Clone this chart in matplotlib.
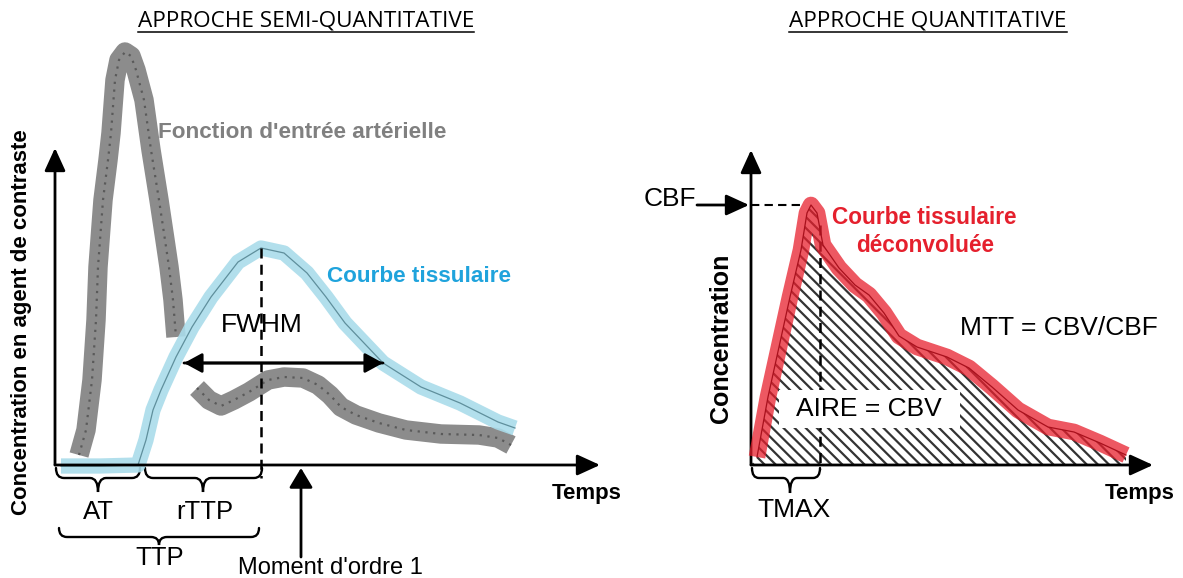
import numpy as np
import matplotlib
matplotlib.use('Agg')
import matplotlib.pyplot as plt
from matplotlib.path import Path
from matplotlib.patches import PathPatch, Rectangle
from matplotlib.lines import Line2D

plt.rcParams['hatch.linewidth'] = 1.6

# --- left panel data (time / concentration, arbitrary units) ---
aif_t1 = [2.4, 3.1, 3.7, 4.1, 4.3, 4.8, 5.3, 5.6, 6.0, 6.4, 7.0, 7.6, 8.1, 8.9, 9.6, 10.4, 11.0, 11.4, 11.8, 12.1]
aif_c1 = [1.0, 3.5, 8.5, 14.5, 19.8, 26.5, 30.5, 33.2, 38.5, 40.5, 41.3, 40.9, 39.5, 36.5, 31.5, 26.5, 22.5, 19.8, 16.5, 12.8]
aif_t2 = [14.2, 15.4, 16.6, 17.9, 19.4, 21.3, 22.9, 24.8, 26.3, 27.5, 28.6, 30.1, 32.4, 35.1, 38.6, 42.4, 44.3, 45.6]
aif_c2 = [7.7, 6.5, 5.9, 6.5, 7.3, 8.5, 8.8, 8.7, 8.0, 7.0, 5.8, 5.0, 4.2, 3.5, 3.1, 3.0, 2.7, 2.0]

tis_t = [0.6, 4.5, 8.3, 9.1, 9.8, 10.6, 12.1, 13.7, 15.6, 18.3, 20.6, 22.9, 25.2, 27.1, 29.0, 30.9, 32.8, 36.6, 40.5, 44.3, 46.0]
tis_c = [-0.1, -0.1, 0.0, 2.5, 5.5, 7.5, 10.8, 13.8, 16.8, 20.3, 21.7, 21.2, 19.2, 16.8, 14.2, 12.2, 10.2, 7.8, 6.2, 4.3, 3.7]

t_arrival = 8.5
t_peak = 20.6
t_moment = 24.6
fwhm_t = [12.9, 32.8]
fwhm_c = 10.2

# --- right panel data ---
dec_t = [0.6, 1.7, 2.8, 3.9, 5.0, 5.6, 6.0, 6.6, 7.2, 8.8, 10.4, 11.8, 13.3, 14.8, 16.6, 19.6, 21.8, 24.1, 26.7, 29.7, 32.3, 34.9, 37.5]
dec_c = [0.8, 6.8, 11.8, 16.8, 21.5, 25.2, 26.0, 25.2, 22.0, 19.7, 18.0, 17.0, 15.2, 12.9, 11.8, 10.8, 9.7, 7.8, 5.5, 3.8, 3.3, 2.2, 1.0]
t_max = 6.9

GRAY = '#8c8c8c'
BLUE = '#aadcea'
RED = '#e8202e'
ARIAL = 'Liberation Sans'

fig = plt.figure(figsize=(11.83, 5.78), dpi=100)
axL = fig.add_axes([0, 0, 1, 1])
axL.set_xlim(-5.5, 112.8)
axL.set_ylim(-11.3, 46.5)
axL.axis('off')
axR = fig.add_axes([0, 0, 1, 1])
axR.set_xlim(-75.1, 43.2)
axR.set_ylim(-11.3, 46.5)
axR.axis('off')
axR.patch.set_alpha(0)


def arrow(ax, xy, xytext, hl=0.7, hw=0.32, lw=2):
    ax.annotate('', xy=xy, xytext=xytext,
                arrowprops=dict(arrowstyle='-|>,head_length=%s,head_width=%s' % (hl, hw),
                                color='black', lw=lw, shrinkA=0, shrinkB=0,
                                mutation_scale=20))


def brace(ax, xa, xb, xm, y0, y1, y2, r=0.8):
    verts = [(xa, y0), (xa, y1), (xa + r, y1), (xm - r, y1), (xm, y1), (xm, y2),
             (xm, y1), (xm + r, y1), (xb - r, y1), (xb, y1), (xb, y0)]
    codes = [Path.MOVETO, Path.CURVE3, Path.CURVE3, Path.LINETO, Path.CURVE3, Path.CURVE3,
             Path.CURVE3, Path.CURVE3, Path.LINETO, Path.CURVE3, Path.CURVE3]
    ax.add_patch(PathPatch(Path(verts, codes), fill=False, lw=1.7, ec='black', capstyle='round'))


# ===== left panel =====
arrow(axL, (0, 31.7), (0, 0))
arrow(axL, (54.5, 0), (0, 0))

for tt, cc in [(aif_t1, aif_c1), (aif_t2, aif_c2)]:
    axL.plot(tt, cc, color=GRAY, lw=14, solid_capstyle='butt', solid_joinstyle='round')
    axL.plot(tt, cc, color='#5a5a5a', lw=1.6, ls=(0, (1, 2.5)))

axL.plot(tis_t, tis_c, color=BLUE, lw=11, alpha=0.9, solid_capstyle='butt', solid_joinstyle='round')
axL.plot(tis_t, tis_c, color='#5f8f9c', lw=0.9)

axL.plot([t_peak, t_peak], [max(tis_c), -1.3], color='black', lw=1.8, ls=(0, (4, 2.5)))
arrow(axL, (fwhm_t[0], fwhm_c), (fwhm_t[1], fwhm_c), hl=0.55, hw=0.3)
arrow(axL, (fwhm_t[1], fwhm_c), (fwhm_t[0], fwhm_c), hl=0.55, hw=0.3)
axL.text((fwhm_t[0] + fwhm_t[1]) / 2 - 2.2, 14.0, 'FWHM', fontsize=19, family=ARIAL,
         ha='center', va='center')

arrow(axL, (t_moment, -0.3), (t_moment, -9.2), hl=0.6, hw=0.36)
axL.text(27.5, -10.3, "Moment d'ordre 1", fontsize=17, family=ARIAL, ha='center', va='center')

brace(axL, 0.1, t_arrival, 4.3, -0.3, -1.3, -2.7)
brace(axL, t_arrival + 0.5, t_peak + 0.1, 14.8, -0.3, -1.3, -2.7)
brace(axL, 0.4, t_peak - 0.2, 10.4, -6.3, -7.2, -8.0)
axL.text(4.3, -4.7, 'AT', fontsize=18.5, family=ARIAL, ha='center', va='center')
axL.text(15.0, -4.7, 'rTTP', fontsize=18.5, family=ARIAL, ha='center', va='center')
axL.text(10.5, -9.3, 'TTP', fontsize=18.5, family=ARIAL, ha='center', va='center')

axL.text(10.3, 33.3, "Fonction d'entrée artérielle", fontsize=16.2, family=ARIAL,
         weight='bold', color='#808080', ha='left', va='center')
axL.text(27.2, 18.8, 'Courbe tissulaire', fontsize=16.2, family=ARIAL,
         weight='bold', color='#1fa3dc', ha='left', va='center')
axL.text(53.2, -2.8, 'Temps', fontsize=16, family=ARIAL, weight='bold', ha='center', va='center')
axL.text(-3.3, 14.3, 'Concentration en agent de contraste', fontsize=16, family=ARIAL,
         weight='bold', rotation=90, ha='center', va='center')

# ===== right panel =====
arrow(axR, (0, 31.5), (0, 0))
arrow(axR, (40.2, 0), (0, 0))

poly_t = [0] + dec_t + [dec_t[-1]]
poly_c = [0] + dec_c + [0]
axR.fill(poly_t, poly_c, facecolor='white', edgecolor='#333333', hatch='\\\\\\', lw=0)
axR.plot([t_max, t_max], [24.0, -0.4], color='black', lw=1.8, ls=(0, (4, 2.5)))
axR.add_patch(Rectangle((2.8, 3.7), 18.1, 3.8, facecolor='white', edgecolor='none', zorder=3))
axR.text(11.8, 5.6, 'AIRE = CBV', fontsize=19, family=ARIAL, ha='center', va='center', zorder=4)

axR.plot(dec_t, dec_c, color=RED, lw=12, alpha=0.75, solid_capstyle='butt', solid_joinstyle='round', zorder=5)
axR.plot(dec_t, dec_c, color='#a8101c', lw=0.9, zorder=5)

cbf = max(dec_c)
arrow(axR, (-0.2, cbf), (-5.4, cbf))
axR.plot([0, 5.2], [cbf, cbf], color='black', lw=1.5, ls=(0, (4, 2.5)))
axR.text(-8.1, cbf + 0.6, 'CBF', fontsize=19, family=ARIAL, ha='center', va='center')

brace(axR, 0.1, t_max, 3.9, -0.3, -1.3, -2.8, r=0.7)
axR.text(4.3, -4.5, 'TMAX', fontsize=19, family=ARIAL, ha='center', va='center')

axR.text(17.3, 24.7, 'Courbe tissulaire', fontsize=16.3, family=ARIAL, weight='bold',
         color='#e5202d', ha='center', va='center')
axR.text(17.4, 22.0, 'déconvoluée', fontsize=16.3, family=ARIAL, weight='bold',
         color='#e5202d', ha='center', va='center')
axR.text(30.8, 13.7, 'MTT = CBV/CBF', fontsize=19, family=ARIAL, ha='center', va='center')
axR.text(38.9, -2.8, 'Temps', fontsize=16, family=ARIAL, weight='bold', ha='center', va='center')
axR.text(-3.0, 12.7, 'Concentration', fontsize=18, family=ARIAL, weight='bold',
         rotation=90, ha='center', va='center')

# titles with underline
titles = []
for label, px in [('APPROCHE SEMI-QUANTITATIVE', 306), ('APPROCHE QUANTITATIVE', 928)]:
    titles.append(fig.text(px / 1183, 1 - 21 / 578, label, fontsize=16.2, family='Open Sans',
                           ha='center', va='center'))
fig.canvas.draw()
for t in titles:
    bb = t.get_window_extent().transformed(fig.transFigure.inverted())
    fig.add_artist(Line2D([bb.x0, bb.x1], [1 - 31.5 / 578] * 2, color='black', lw=1.1,
                          transform=fig.transFigure))

fig.savefig('out.png', dpi=100)
